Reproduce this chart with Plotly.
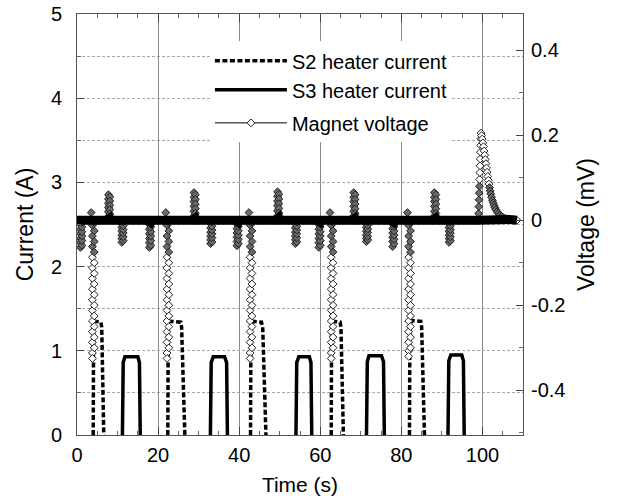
import plotly.graph_objects as go

# ---------------- data ----------------
# S2 heater current (dashed), A
s2_time = [4.0, 4.1, 4.5, 5.9, 6.1, 6.6, None,
           22.4, 22.5, 23.0, 25.6, 25.8, 26.6, None,
           42.8, 42.9, 43.6, 45.5, 45.8, 46.6, None,
           62.7, 62.8, 63.4, 64.9, 65.1, 65.7, None,
           82.0, 82.1, 82.7, 84.8, 85.0, 85.7]
s2_current = [0.0, 1.30, 1.35, 1.34, 1.28, 0.0, None,
              0.0, 1.30, 1.35, 1.34, 1.28, 0.0, None,
              0.0, 1.30, 1.35, 1.34, 1.28, 0.0, None,
              0.0, 1.30, 1.35, 1.34, 1.28, 0.0, None,
              0.0, 1.30, 1.36, 1.35, 1.28, 0.0]

# S3 heater current (solid), A
s3_time = [11.2, 11.4, 11.8, 15.0, 15.4, 15.6, None,
           32.9, 33.1, 33.6, 36.4, 36.9, 37.1, None,
           54.0, 54.2, 54.7, 57.3, 57.7, 57.9, None,
           71.4, 71.6, 72.0, 75.1, 75.6, 75.8, None,
           91.5, 91.7, 92.2, 94.9, 95.3, 95.5]
s3_current = [0.0, 0.86, 0.93, 0.93, 0.86, 0.0, None,
              0.0, 0.86, 0.93, 0.93, 0.86, 0.0, None,
              0.0, 0.86, 0.93, 0.93, 0.86, 0.0, None,
              0.0, 0.87, 0.94, 0.94, 0.87, 0.0, None,
              0.0, 0.88, 0.95, 0.95, 0.88, 0.0]

# Magnet voltage, mV
volt_time = [
    0.0,
    0.5, 0.85, 0.85, 0.85, 0.85, 0.85, 0.85, 1.2, 1.2, 1.2, 1.2, 1.2, 1.2, 1.5,
    3.3, 3.5, 3.65,
    3.8, 3.8, 3.8, 3.8, 3.8, 3.8, 3.8, 3.8, 3.8, 3.8, 3.8, 3.8, 3.8, 3.8,
    4.25, 4.25, 4.25, 4.25, 4.25, 4.25, 4.25, 4.25, 4.25, 4.25, 4.25, 4.25, 4.25, 4.6,
    7.4, 7.75, 7.75, 7.75, 7.75, 7.75, 7.75, 8.1, 8.1, 8.1, 8.1, 8.1, 8.1, 8.4,
    10.7, 11.05, 11.05, 11.05, 11.05, 11.05, 11.05, 11.4, 11.4, 11.4, 11.4, 11.4, 11.4, 11.7,
    17.5, 17.85, 17.85, 17.85, 17.85, 17.85, 17.85, 18.2, 18.2, 18.2, 18.2, 18.2, 18.2, 18.5,
    21.7, 21.9, 22.05,
    22.2, 22.2, 22.2, 22.2, 22.2, 22.2, 22.2, 22.2, 22.2, 22.2, 22.2, 22.2, 22.2, 22.2,
    22.65, 22.65, 22.65, 22.65, 22.65, 22.65, 22.65, 22.65, 22.65, 22.65, 22.65, 22.65, 22.65, 23.0,
    28.5, 28.85, 28.85, 28.85, 28.85, 28.85, 28.85, 29.2, 29.2, 29.2, 29.2, 29.2, 29.2, 29.5,
    32.6, 32.95, 32.95, 32.95, 32.95, 32.95, 32.95, 33.3, 33.3, 33.3, 33.3, 33.3, 33.3, 33.6,
    39.1, 39.45, 39.45, 39.45, 39.45, 39.45, 39.45, 39.8, 39.8, 39.8, 39.8, 39.8, 39.8, 40.1,
    42.2, 42.4, 42.55,
    42.7, 42.7, 42.7, 42.7, 42.7, 42.7, 42.7, 42.7, 42.7, 42.7, 42.7, 42.7, 42.7, 42.7,
    43.15, 43.15, 43.15, 43.15, 43.15, 43.15, 43.15, 43.15, 43.15, 43.15, 43.15, 43.15, 43.15, 43.5,
    49.1, 49.45, 49.45, 49.45, 49.45, 49.45, 49.45, 49.8, 49.8, 49.8, 49.8, 49.8, 49.8, 50.1,
    53.5, 53.85, 53.85, 53.85, 53.85, 53.85, 53.85, 54.2, 54.2, 54.2, 54.2, 54.2, 54.2, 54.5,
    59.3, 59.65, 59.65, 59.65, 59.65, 59.65, 59.65, 60.0, 60.0, 60.0, 60.0, 60.0, 60.0, 60.3,
    62.2, 62.4, 62.55,
    62.7, 62.7, 62.7, 62.7, 62.7, 62.7, 62.7, 62.7, 62.7, 62.7, 62.7, 62.7, 62.7, 62.7,
    63.15, 63.15, 63.15, 63.15, 63.15, 63.15, 63.15, 63.15, 63.15, 63.15, 63.15, 63.15, 63.15, 63.5,
    67.9, 68.25, 68.25, 68.25, 68.25, 68.25, 68.25, 68.6, 68.6, 68.6, 68.6, 68.6, 68.6, 68.9,
    71.0, 71.35, 71.35, 71.35, 71.35, 71.35, 71.35, 71.7, 71.7, 71.7, 71.7, 71.7, 71.7, 72.0,
    77.5, 77.85, 77.85, 77.85, 77.85, 77.85, 77.85, 78.2, 78.2, 78.2, 78.2, 78.2, 78.2, 78.5,
    81.3, 81.5, 81.65,
    81.8, 81.8, 81.8, 81.8, 81.8, 81.8, 81.8, 81.8, 81.8, 81.8, 81.8, 81.8, 81.8, 81.8,
    82.25, 82.25, 82.25, 82.25, 82.25, 82.25, 82.25, 82.25, 82.25, 82.25, 82.25, 82.25, 82.25, 82.6,
    87.8, 88.15, 88.15, 88.15, 88.15, 88.15, 88.15, 88.5, 88.5, 88.5, 88.5, 88.5, 88.5, 88.8,
    91.4, 91.75, 91.75, 91.75, 91.75, 91.75, 91.75, 92.1, 92.1, 92.1, 92.1, 92.1, 92.1, 92.4,
    98.9, 99.05, 99.1, 99.15, 99.2, 99.25, 99.3, 99.35, 99.4, 99.45, 99.5, 99.55, 99.6, 99.65,
    99.8, 99.95, 100.1, 100.25, 100.4, 100.55, 100.7, 100.85, 101.0, 101.15, 101.3, 101.45,
    101.6, 101.75, 101.9, 102.05, 102.25, 102.45, 102.65, 102.85, 103.05, 103.3, 103.6, 103.9,
    104.3, 104.7, 105.2, 105.8, 106.5, 107.4, 108.5,
]
volt_mv = [
    0.0,
    0.0, -0.010, -0.021, -0.032, -0.043, -0.053, -0.064, -0.059, -0.048, -0.037, -0.027, -0.016, -0.005, 0.0,
    0.0, 0.018, 0.0,
    -0.012, -0.037, -0.062, -0.087, -0.112, -0.137, -0.162, -0.187, -0.212, -0.237, -0.262, -0.287, -0.312, -0.325,
    -0.300, -0.275, -0.250, -0.225, -0.200, -0.175, -0.150, -0.125, -0.100, -0.075, -0.050, -0.025, -0.005, 0.0,
    0.0, 0.009, 0.020, 0.030, 0.040, 0.050, 0.060, 0.055, 0.045, 0.035, 0.025, 0.015, 0.005, 0.0,
    0.0, -0.008, -0.017, -0.026, -0.035, -0.043, -0.052, -0.048, -0.039, -0.030, -0.022, -0.013, -0.004, 0.0,
    0.0, -0.010, -0.021, -0.032, -0.043, -0.053, -0.064, -0.059, -0.048, -0.037, -0.027, -0.016, -0.005, 0.0,
    0.0, 0.018, 0.0,
    -0.012, -0.037, -0.062, -0.087, -0.112, -0.137, -0.162, -0.187, -0.212, -0.237, -0.262, -0.287, -0.312, -0.325,
    -0.300, -0.275, -0.250, -0.225, -0.200, -0.175, -0.150, -0.125, -0.100, -0.075, -0.050, -0.025, -0.005, 0.0,
    0.0, 0.010, 0.021, 0.033, 0.044, 0.054, 0.065, 0.060, 0.049, 0.038, 0.027, 0.016, 0.005, 0.0,
    0.0, -0.008, -0.018, -0.028, -0.037, -0.046, -0.055, -0.051, -0.041, -0.032, -0.023, -0.014, -0.004, 0.0,
    0.0, -0.009, -0.020, -0.030, -0.040, -0.050, -0.060, -0.055, -0.045, -0.035, -0.025, -0.015, -0.005, 0.0,
    0.0, 0.018, 0.0,
    -0.012, -0.037, -0.062, -0.087, -0.112, -0.137, -0.162, -0.187, -0.212, -0.237, -0.262, -0.287, -0.312, -0.325,
    -0.300, -0.275, -0.250, -0.225, -0.200, -0.175, -0.150, -0.125, -0.100, -0.075, -0.050, -0.025, -0.005, 0.0,
    0.0, 0.010, 0.022, 0.034, 0.045, 0.056, 0.067, 0.061, 0.050, 0.039, 0.028, 0.017, 0.006, 0.0,
    0.0, -0.008, -0.018, -0.028, -0.037, -0.046, -0.055, -0.051, -0.041, -0.032, -0.023, -0.014, -0.004, 0.0,
    0.0, -0.010, -0.021, -0.032, -0.043, -0.053, -0.064, -0.059, -0.048, -0.037, -0.027, -0.016, -0.005, 0.0,
    0.0, 0.018, 0.0,
    -0.012, -0.037, -0.062, -0.087, -0.112, -0.137, -0.162, -0.187, -0.212, -0.237, -0.262, -0.287, -0.312, -0.325,
    -0.300, -0.275, -0.250, -0.225, -0.200, -0.175, -0.150, -0.125, -0.100, -0.075, -0.050, -0.025, -0.005, 0.0,
    0.0, 0.010, 0.021, 0.033, 0.044, 0.054, 0.065, 0.060, 0.049, 0.038, 0.027, 0.016, 0.005, 0.0,
    0.0, -0.008, -0.017, -0.026, -0.035, -0.043, -0.050, -0.046, -0.038, -0.029, -0.021, -0.012, -0.004, 0.0,
    0.0, -0.009, -0.020, -0.030, -0.040, -0.050, -0.062, -0.055, -0.045, -0.035, -0.025, -0.015, -0.005, 0.0,
    0.0, 0.018, 0.0,
    -0.012, -0.037, -0.062, -0.087, -0.112, -0.137, -0.162, -0.187, -0.212, -0.237, -0.262, -0.287, -0.307, -0.320,
    -0.300, -0.275, -0.250, -0.225, -0.200, -0.175, -0.150, -0.125, -0.100, -0.075, -0.050, -0.025, -0.005, 0.0,
    0.0, 0.010, 0.021, 0.033, 0.044, 0.054, 0.065, 0.060, 0.049, 0.038, 0.027, 0.016, 0.005, 0.0,
    0.0, -0.008, -0.017, -0.026, -0.035, -0.043, -0.052, -0.048, -0.039, -0.030, -0.022, -0.013, -0.004, 0.0,
    0.0, 0.016, 0.032, 0.048, 0.064, 0.080, 0.096, 0.112, 0.128, 0.144, 0.160, 0.176, 0.192, 0.205,
    0.199, 0.191, 0.182, 0.173, 0.163, 0.153, 0.143, 0.133, 0.123, 0.113, 0.103, 0.094,
    0.085, 0.077, 0.069, 0.062, 0.054, 0.047, 0.041, 0.035, 0.030, 0.025, 0.020, 0.016,
    0.012, 0.009, 0.006, 0.004, 0.002, 0.001, 0.0,
]

x_ticks = [0, 20, 40, 60, 80, 100]
y_ticks = [0, 1, 2, 3, 4, 5]
y2_ticks = [-0.4, -0.2, 0, 0.2, 0.4]
y2_labels = ["-0.4", "-0.2", "0", "0.2", "0.4"]

# the dense cloud of samples sitting on 0 mV shows as a thick black band
band_mv = [v if abs(v) < 0.007 else None for v in volt_mv]
# densely overlapping diamonds close to the baseline look dark grey
marker_fill = ["#6a6a6a" if 0 < abs(v) < 0.085 else "white" for v in volt_mv]

FONT = "Arial, 'Liberation Sans', sans-serif"

fig = go.Figure()
fig.add_trace(go.Scatter(
    x=s2_time, y=s2_current, mode="lines", name="S2 heater current",
    legendgroup="heaters",
    line=dict(color="black", width=3.5, dash="5px,2.5px"), connectgaps=False))
fig.add_trace(go.Scatter(
    x=s3_time, y=s3_current, mode="lines", name="S3 heater current",
    legendgroup="heaters",
    line=dict(color="black", width=3.5), connectgaps=False))
fig.add_trace(go.Scatter(
    x=volt_time, y=volt_mv, mode="lines+markers", name="Magnet voltage", yaxis="y2",
    legendgroup="magnet",
    line=dict(color="black", width=1),
    marker=dict(symbol="diamond", size=6, color=marker_fill,
                line=dict(color="#202020", width=1))))
fig.add_trace(go.Scatter(
    x=volt_time, y=band_mv, mode="lines", yaxis="y2", showlegend=False,
    connectgaps=True, hoverinfo="skip",
    line=dict(color="black", width=9)))

GRID_H = "#aaaaaa"
fig.update_layout(
    width=618, height=501,
    margin=dict(l=77, r=95, t=14, b=66, autoexpand=False),
    paper_bgcolor="white", plot_bgcolor="white",
    font=dict(family=FONT, size=20, color="black"),
    showlegend=True,
    legend=dict(x=0.298, y=0.935, xanchor="left", yanchor="top",
                bgcolor="white", borderwidth=0, font=dict(size=20),
                itemwidth=72, tracegroupgap=4, traceorder="grouped"),
    xaxis=dict(range=[0, 110], tickvals=x_ticks, ticks="inside", ticklen=8,
               tickcolor="#444", showline=True, linecolor="#555", linewidth=1,
               mirror="ticks", showgrid=True, gridcolor="#8a8a8a", gridwidth=1,
               zeroline=False, ticklabelstandoff=2, ticklabeloverflow="allow",
               minor=dict(dtick=5, ticks="inside", ticklen=4, tickcolor="#666",
                          showgrid=False),
               title=dict(text="Time (s)", standoff=12, font=dict(size=21))),
    yaxis=dict(range=[0, 5], tickvals=y_ticks, ticks="inside", ticklen=7,
               tickcolor="#444", showline=True, linecolor="#555", linewidth=1,
               showgrid=True, gridcolor=GRID_H, griddash="3px,2px", gridwidth=1,
               zeroline=False, ticklabelstandoff=10, ticklabeloverflow="allow",
               minor=dict(dtick=0.5, ticks="inside", ticklen=4, tickcolor="#666",
                          showgrid=True, gridcolor=GRID_H, griddash="3px,2px"),
               title=dict(text="Current (A)", standoff=10, font=dict(size=23))),
    yaxis2=dict(range=[-0.505, 0.485], overlaying="y", side="right",
                tickvals=y2_ticks, ticktext=y2_labels, ticks="inside", ticklen=7,
                tickcolor="#444", showline=True, linecolor="#555", linewidth=1,
                showgrid=False, zeroline=False, ticklabelstandoff=3,
                ticklabeloverflow="allow",
                minor=dict(dtick=0.1, ticks="inside", ticklen=4, tickcolor="#666"),
                title=dict(text="Voltage (mV)", standoff=13, font=dict(size=23))),
)

# drop the browser's default 8 px page margin so the figure fills the window
fig.write_html("out.html",
               config={"displayModeBar": False},
               post_script="document.body.style.margin='0px';"
                           "document.body.style.overflow='hidden';")
